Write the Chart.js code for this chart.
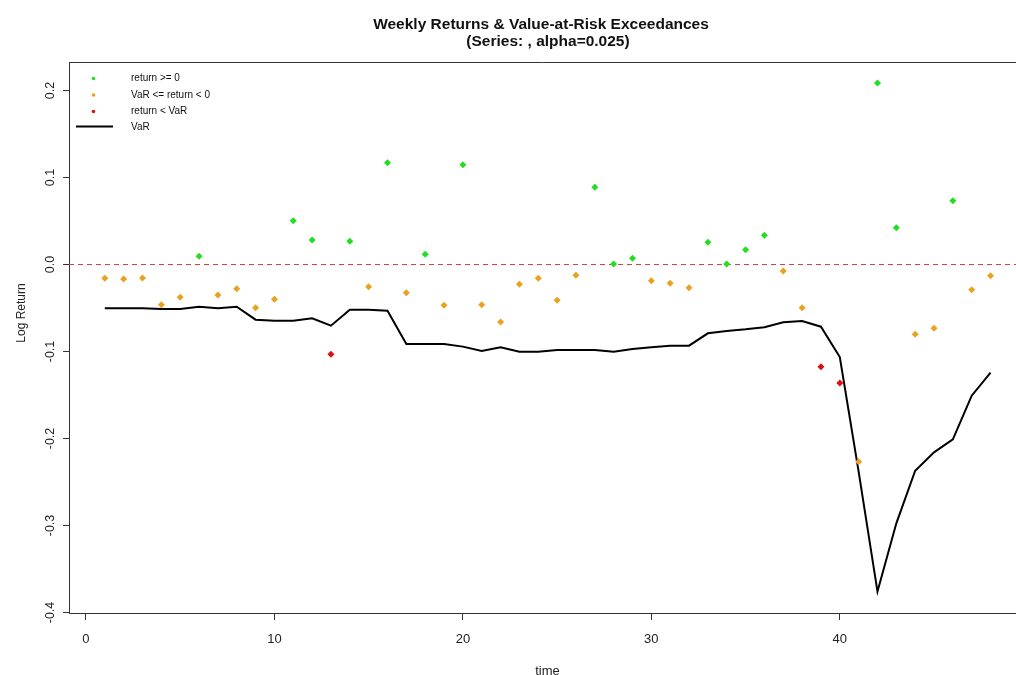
<!DOCTYPE html>
<html>
<head>
<meta charset="utf-8">
<script src="https://cdn.jsdelivr.net/npm/chart.js@4.4.1/dist/chart.umd.min.js"></script>
<style>
html,body{margin:0;padding:0;background:#ffffff;overflow:hidden;}
#wrap{width:1016px;height:675px;position:relative;}
</style>
</head>
<body>
<div id="wrap"><canvas id="c" width="1016" height="675"></canvas></div>
<script>
// ---- data ----
const weeks = [1,2,3,4,5,6,7,8,9,10,11,12,13,14,15,16,17,18,19,20,21,22,23,24,25,26,27,28,29,30,31,32,33,34,35,36,37,38,39,40,41,42,43,44,45,46,47,48];
const logReturns = [-0.0159,-0.0167,-0.0155,-0.0462,-0.0377,0.0094,-0.0350,-0.0278,-0.0496,-0.0400,
  0.0504,0.0282,-0.1032,0.0267,-0.0255,0.1170,-0.0324,0.0117,-0.0469,0.1147,
  -0.0462,-0.0661,-0.0228,-0.0159,-0.0412,-0.0124,0.0887,0.0005,0.0071,-0.0186,
  -0.0216,-0.0267,0.0255,0.0005,0.0170,0.0336,-0.0075,-0.0496,-0.1175,-0.1362,
  -0.2266,0.2086,0.0423,-0.0803,-0.0734,0.0734,-0.0290,-0.0128];
const valueAtRisk = [-0.0503,-0.0503,-0.0503,-0.0511,-0.0511,-0.0485,-0.0503,-0.0485,-0.0634,-0.0646,
  -0.0646,-0.0619,-0.0703,-0.0520,-0.0520,-0.0531,-0.0914,-0.0914,-0.0914,-0.0944,
  -0.0994,-0.0952,-0.1002,-0.1002,-0.0983,-0.0983,-0.0983,-0.1002,-0.0971,-0.0952,
  -0.0933,-0.0933,-0.0791,-0.0763,-0.0745,-0.0722,-0.0665,-0.0650,-0.0715,-0.1064,
  -0.2380,-0.3760,-0.2975,-0.2370,-0.2159,-0.2009,-0.1508,-0.1243];
const xTickValues = [0,10,20,30,40];
const yTickValues = [-0.4,-0.3,-0.2,-0.1,0.0,0.1,0.2];
const legendLabels = ['return >= 0','VaR <= return < 0','return < VaR','VaR'];
const titleLines = ['Weekly Returns & Value-at-Risk Exceedances','(Series: , alpha=0.025)'];
const xTitle = 'time';
const yTitle = 'Log Return';

// ---- styling ----
const GREEN = '#22dd22', ORANGE = '#e8a21e', RED = '#dd1111';
const X_MIN = -0.9, X_MAX = 49.35, Y_MIN = -0.4006, Y_MAX = 0.2328;

const posPts = [], midPts = [], excPts = [];
weeks.forEach((w,i)=>{
  const r = logReturns[i], v = valueAtRisk[i];
  const p = {x:w, y:r};
  if (r >= 0) posPts.push(p); else if (r < v) excPts.push(p); else midPts.push(p);
});
const varPts = weeks.map((w,i)=>({x:w, y:valueAtRisk[i]}));
const zeroPts = [{x:X_MIN,y:0},{x:X_MAX,y:0}];

const pointDs = (label, data, color) => ({
  type:'scatter', label, data, showLine:false,
  pointStyle:'rectRot', pointRadius:3.5, pointBorderWidth:0,
  backgroundColor:color, borderColor:color, order:1
});

const textPlugin = {
  id:'textPlugin',
  afterDraw(chart){
    const ctx = chart.ctx, a = chart.chartArea;
    ctx.save();
    // top frame line
    ctx.strokeStyle = '#333'; ctx.lineWidth = 1;
    ctx.beginPath(); ctx.moveTo(a.left, a.top + 0.5); ctx.lineTo(a.right, a.top + 0.5); ctx.stroke();
    // title
    ctx.fillStyle = '#111';
    ctx.font = 'bold 15.5px "Liberation Sans", Arial, sans-serif';
    ctx.textAlign = 'center'; ctx.textBaseline = 'alphabetic';
    ctx.fillText(titleLines[0], 541, 29);
    ctx.fillText(titleLines[1], 548, 45.5);
    // axis titles
    ctx.fillStyle = '#222';
    ctx.font = '13px "Liberation Sans", Arial, sans-serif';
    ctx.fillText(xTitle, 547.5, 675);
    ctx.save();
    ctx.translate(25, 313); ctx.rotate(-Math.PI/2);
    ctx.font = '12px "Liberation Sans", Arial, sans-serif';
    ctx.fillText(yTitle, 0, 0);
    ctx.restore();
    // legend
    const rows = [78.5, 95, 111.5, 127];
    const cols = [GREEN, ORANGE, RED];
    ctx.font = '10px "Liberation Sans", Arial, sans-serif';
    ctx.textAlign = 'left'; ctx.textBaseline = 'middle';
    for (let i=0;i<3;i++){
      ctx.fillStyle = cols[i];
      ctx.beginPath(); ctx.arc(93.5, rows[i], 1.8, 0, Math.PI*2); ctx.fill();
    }
    ctx.strokeStyle = '#000'; ctx.lineWidth = 2;
    ctx.beginPath(); ctx.moveTo(76, rows[3]-0.5); ctx.lineTo(113, rows[3]-0.5); ctx.stroke();
    ctx.fillStyle = '#111';
    legendLabels.forEach((t,i)=> ctx.fillText(t, 131, rows[i]));
    ctx.restore();
  }
};

new Chart(document.getElementById('c'), {
  type:'scatter',
  data:{
    datasets:[
      pointDs(legendLabels[0], posPts, GREEN),
      pointDs(legendLabels[1], midPts, ORANGE),
      pointDs(legendLabels[2], excPts, RED),
      {type:'line', label:legendLabels[3], data:varPts, borderColor:'#000', borderWidth:2,
       pointRadius:0, tension:0, fill:false, order:2},
      {type:'line', label:'zero', data:zeroPts, borderColor:'#d4443c', borderWidth:1,
       borderDash:[5,4], pointRadius:0, fill:false, order:3}
    ]
  },
  options:{
    responsive:false, animation:false, devicePixelRatio:1,
    layout:{autoPadding:false, padding:{top:62, right:0, left:0, bottom:0}},
    plugins:{legend:{display:false}, title:{display:false}, tooltip:{enabled:false}},
    scales:{
      x:{
        type:'linear', min:X_MIN, max:X_MAX,
        afterBuildTicks: s => { s.ticks = xTickValues.map(v=>({value:v})); },
        afterFit: s => { s.height = 62; s.paddingLeft = 0; s.paddingRight = 0; },
        ticks:{includeBounds:false, autoSkip:false, maxRotation:0, minRotation:0, padding:12,
          color:'#222', font:{family:'"Liberation Sans", Arial, sans-serif', size:13},
          callback: v => String(v)},
        grid:{drawOnChartArea:false, drawTicks:true, tickLength:7, color:'#333'},
        border:{display:true, color:'#333', width:1}
      },
      y:{
        type:'linear', min:Y_MIN, max:Y_MAX,
        afterBuildTicks: s => { s.ticks = yTickValues.map(v=>({value:v})); },
        afterFit: s => { s.width = 69; s.paddingTop = 0; s.paddingBottom = 0; },
        ticks:{includeBounds:false, autoSkip:false, minRotation:90, maxRotation:90, crossAlign:'center', padding:2,
          color:'#222', font:{family:'"Liberation Sans", Arial, sans-serif', size:12.5},
          callback: v => Number(v).toFixed(1)},
        grid:{drawOnChartArea:false, drawTicks:true, tickLength:6, color:'#333'},
        border:{display:true, color:'#333', width:1}
      }
    }
  },
  plugins:[textPlugin]
});
</script>
</body>
</html>
